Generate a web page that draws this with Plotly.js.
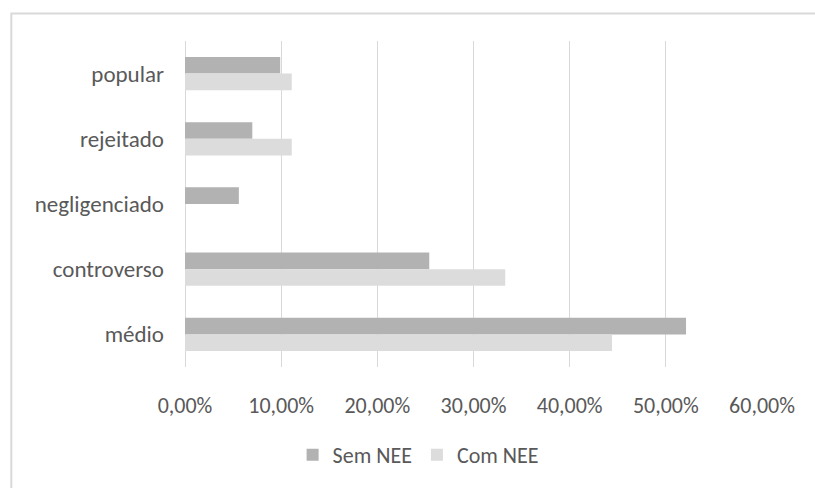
<!DOCTYPE html>
<html>
<head>
<meta charset="utf-8">
<script src="https://cdn.plot.ly/plotly-3.0.1.min.js"></script>
<style>
  html, body { margin: 0; padding: 0; background: #ffffff; }
  #chart { width: 815px; height: 488px; }
</style>
</head>
<body>
<div id="chart"></div>
<script>
// Categories listed top to bottom as in the picture
const categories = ["popular", "rejeitado", "negligenciado", "controverso", "médio"];
// Percent values
const semNEE = [9.9, 7.0, 5.6, 25.4, 52.1];
const comNEE = [11.1, 11.1, 0, 33.3, 44.4];
const seriesNames = ["Sem NEE", "Com NEE"];
const xTicks = [0, 10, 20, 30, 40, 50, 60];

const FONT = "Carlito, 'Liberation Sans Narrow', Lato, sans-serif";
const TXT = "#595959";
const FS = 22;

const traces = [
  {
    type: "bar", orientation: "h", name: seriesNames[0],
    y: categories, x: semNEE.map(v => v / 100),
    marker: { color: "#b2b2b2" }, hoverinfo: "skip"
  },
  {
    type: "bar", orientation: "h", name: seriesNames[1],
    y: categories, x: comNEE.map(v => v / 100),
    marker: { color: "#dcdcdc" }, hoverinfo: "skip"
  }
];

const layout = {
  width: 815, height: 488,
  margin: { l: 185, r: 53, t: 41, b: 114 },
  paper_bgcolor: "#ffffff", plot_bgcolor: "#ffffff",
  separators: ",.",
  barmode: "group", bargap: 0.49, bargroupgap: 0,
  font: { family: FONT, color: TXT, size: FS },
  xaxis: {
    range: [0, 0.6], tickvals: xTicks.map(v => v / 100), tickformat: ".2%",
    showgrid: true, gridcolor: "#d9d9d9", gridwidth: 1,
    zeroline: true, zerolinecolor: "#d9d9d9", zerolinewidth: 1,
    showline: false, ticks: "", ticklabelstandoff: 23,
    tickfont: { family: FONT, color: TXT, size: FS }, fixedrange: true
  },
  yaxis: {
    type: "category", autorange: "reversed",
    showgrid: false, zeroline: false, showline: false, ticks: "",
    ticklabelstandoff: 20,
    tickfont: { family: FONT, color: TXT, size: 23 }, fixedrange: true
  },
  showlegend: true,
  legend: {
    orientation: "h", x: 0.404, xanchor: "center", y: -0.205, yanchor: "top",
    font: { family: FONT, color: TXT, size: FS }, traceorder: "normal"
  },
  shapes: [
    {
      type: "rect", xref: "paper", yref: "paper",
      x0: -0.301, x1: 1.12, y0: -0.40, y1: 1.084,
      line: { color: "#d9d9d9", width: 2 }, fillcolor: "rgba(0,0,0,0)", layer: "below"
    }
  ]
};

Plotly.newPlot("chart", traces, layout, { displayModeBar: false, staticPlot: true });
</script>
</body>
</html>
